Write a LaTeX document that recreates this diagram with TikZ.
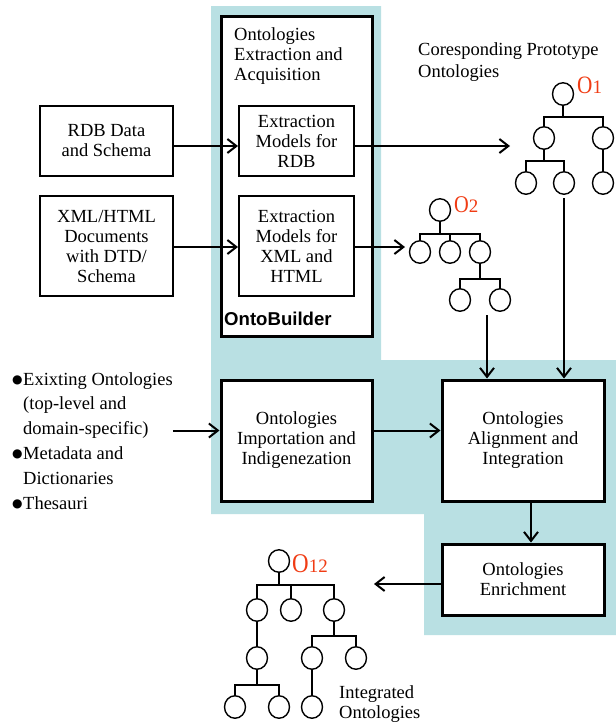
\documentclass[tikz,border=0pt]{standalone}
\usepackage{fontspec}
\setmainfont{Liberation Serif}
\setsansfont{Liberation Sans}
\newfontfamily\symfont{DejaVu Sans}
\usetikzlibrary{arrows.meta,shapes.geometric}
\definecolor{panel}{RGB}{185,224,227}
\definecolor{ored}{RGB}{240,60,20}
\newcommand{\blt}{\makebox[11pt][l]{\raisebox{1.5pt}{\symfont\fontsize{12}{0}\selectfont ●}}}
\newcommand{\olab}[2]{\scalebox{0.85}[1]{\fontsize{#1}{#1}\selectfont O}{\fontsize{19}{19}\selectfont #2}}

\begin{document}
\begin{tikzpicture}[x=1pt, y=-1pt, >={Straight Barb[length=9pt,width=14pt]}, font=\fontsize{18.5}{20}\selectfont]
  \tikzstyle{box}=[draw, line width=2pt, fill=white, align=center, inner sep=0pt]
  \tikzstyle{stage}=[box, line width=3pt]
  \tikzstyle{arr}=[->, line width=2pt]
  \tikzstyle{onode}=[ellipse, draw, line width=1.4pt, minimum width=21pt, minimum height=22.5pt, inner sep=0pt]
  \tikzstyle{branch}=[line width=1.4pt]
  \tikzstyle{olabel}=[text=ored, inner sep=0pt, anchor=base west]
  \tikzstyle{note}=[align=left, inner sep=0pt, anchor=north west]

  \useasboundingbox (0,0) rectangle (616,726);
  \fill[panel] (211,6) -- (381,6) -- (381,360) -- (616,360) -- (616,635) -- (424,635) -- (424,514) -- (211,514) -- cycle;

  % OntoBuilder
  \node[stage, minimum width=151pt, minimum height=320pt] (builder) at (296.5,176) {};
  \node[note] (btitle) at (234,27.5) {Ontologies\\Extraction and\\Acquisition};
  \node[inner sep=0pt, anchor=base west, font=\sffamily\bfseries\fontsize{18.6}{20}\selectfont] (bname) at (224,325) {OntoBuilder};

  \node[box, minimum width=133pt, minimum height=70pt] (rdb) at (106.5,141) {RDB Data\\and Schema};
  \node[box, minimum width=133pt, minimum height=100pt] (xml) at (106.5,246) {XML/HTML\\Documents\\with DTD/\\Schema};
  \node[box, minimum width=115pt, minimum height=70pt] (exrdb) at (296.5,141) {Extraction\\Models for\\RDB};
  \node[box, minimum width=115pt, minimum height=100pt] (exxml) at (296.5,246) {Extraction\\Models for\\XML and\\HTML};

  \node[stage, minimum width=151pt, minimum height=121pt] (imp) at (296.5,440.5) {Ontologies\\Importation and\\Indigenezation};
  \node[stage, minimum width=162pt, minimum height=121pt] (ali) at (523,440.5) {Ontologies\\Alignment and\\Integration};
  \node[stage, minimum width=162pt, minimum height=71pt] (enr) at (523,579.5) {Ontologies\\Enrichment};

  \node[note, font=\fontsize{18.5}{24.8}\selectfont] (sources) at (12,372) {\blt Exixting Ontologies\\\hspace*{11pt}(top-level and\\\hspace*{11pt}domain-specific)\\\blt Metadata and\\\hspace*{11pt}Dictionaries\\\blt Thesauri};
  \node[note, font=\fontsize{18.5}{22}\selectfont] (proto) at (418,42.5) {Coresponding Prototype\\Ontologies};
  \node[note] (integ) at (339,685.5) {Integrated\\Ontologies};

  % O1
  \node[onode] (o1r) at (563,94) {};
  \node[onode] (o1a) at (544,138) {};
  \node[onode] (o1b) at (603,138) {};
  \node[onode] (o1c) at (526,183) {};
  \node[onode] (o1d) at (564,183) {};
  \node[onode] (o1e) at (603,183) {};
  \node[olabel] (o1l) at (577,93) {\olab{25}{1}};
  \draw[branch] (o1r.south) -- ++(0,11) coordinate (o1j);
  \draw[branch] (o1a.north) |- (o1j) -| (o1b.north);
  \draw[branch] (o1a.south) -- ++(0,11) coordinate (o1k);
  \draw[branch] (o1c.north) |- (o1k) -| (o1d.north);
  \draw[branch] (o1b) -- (o1e);

  % O2
  \node[onode] (o2r) at (440,210) {};
  \node[onode] (o2a) at (420,252) {};
  \node[onode] (o2b) at (450,252) {};
  \node[onode] (o2c) at (480,252) {};
  \node[onode] (o2d) at (460,300) {};
  \node[onode] (o2e) at (500,300) {};
  \node[olabel] (o2l) at (454,212) {\olab{24}{2}};
  \draw[branch] (o2r.south) -- ++(0,12) coordinate (o2j);
  \draw[branch] (o2a.north) |- (o2j) -| (o2c.north);
  \draw[branch] (o2b.north) -- (o2b.north |- o2j);
  \draw[branch] (o2c.south) -- ++(0,15) coordinate (o2k);
  \draw[branch] (o2d.north) |- (o2k) -| (o2e.north);

  % O12
  \node[onode] (o12r) at (279,561) {};
  \node[onode] (o12a) at (257,610) {};
  \node[onode] (o12b) at (291,610) {};
  \node[onode] (o12c) at (334,610) {};
  \node[onode] (o12d) at (257,658) {};
  \node[onode] (o12e) at (312,658) {};
  \node[onode] (o12f) at (356,658) {};
  \node[onode] (o12g) at (235,707) {};
  \node[onode] (o12h) at (279,707) {};
  \node[onode] (o12i) at (312,707) {};
  \node[olabel] (o12l) at (292,572) {\olab{27}{12}};
  \draw[branch] (o12r.south) -- ++(0,12) coordinate (o12j);
  \draw[branch] (o12a.north) |- (o12j) -| (o12c.north);
  \draw[branch] (o12b.north) -- (o12b.north |- o12j);
  \draw[branch] (o12a) -- (o12d);
  \draw[branch] (o12d.south) -- ++(0,15) coordinate (o12k);
  \draw[branch] (o12g.north) |- (o12k) -| (o12h.north);
  \draw[branch] (o12c.south) -- ++(0,14) coordinate (o12m);
  \draw[branch] (o12e.north) |- (o12m) -| (o12f.north);
  \draw[branch] (o12e) -- (o12i);

  % flow
  \coordinate (o1in) at (510,146);
  \coordinate (o2in) at (405,247);
  \coordinate (o2out) at (487,315);
  \coordinate (o12in) at (374,584);
  \draw[arr] ([yshift=-5pt]rdb.east) -- ([yshift=-5pt]exrdb.west);
  \draw[arr] ([yshift=-1pt]xml.east) -- ([yshift=-1pt]exxml.west);
  \draw[arr] ([yshift=-5pt]exrdb.east) -- (o1in);
  \draw[arr] ([yshift=-1pt]exxml.east) -- (o2in);
  \draw[arr] ([yshift=10pt]imp.west -| sources.east) -- ([yshift=10pt]imp.west);
  \draw[arr] ([yshift=10pt]imp.east) -- ([yshift=10pt]ali.west);
  \draw[arr] (o2out) -- (o2out |- ali.north);
  \draw[arr] ([yshift=-3.5pt]o1d.south) -- (o1d.south |- ali.north);
  \draw[arr] ([xshift=8pt]ali.south) -- ([xshift=8pt]enr.north);
  \draw[arr] ([yshift=-4.5pt]enr.west) -- (o12in);
\end{tikzpicture}
\end{document}
